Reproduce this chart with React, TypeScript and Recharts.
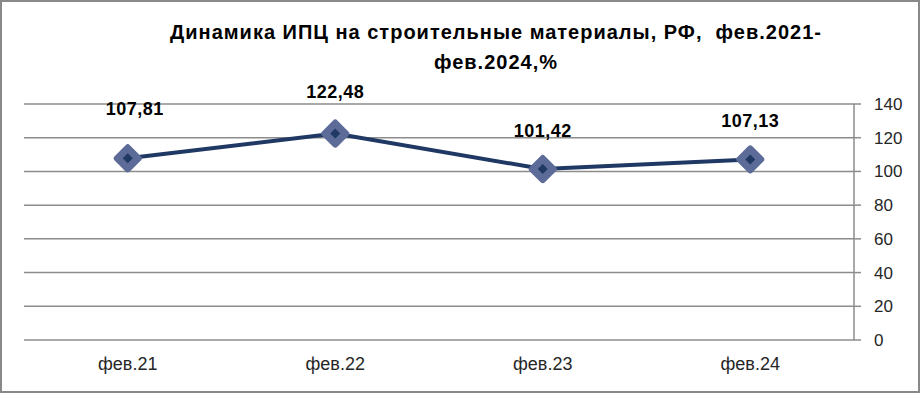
import { LineChart, Line, XAxis, YAxis, CartesianGrid, LabelList } from 'recharts'

const categories = ['фев.21', 'фев.22', 'фев.23', 'фев.24']
const values = [107.81, 122.48, 101.42, 107.13]
const yTicks = [0, 20, 40, 60, 80, 100, 120, 140]
const titleLines = ['Динамика ИПЦ на строительные материалы, РФ,  фев.2021-', 'фев.2024,%']

// label placement as in the original (labels were nudged by hand)
const labelGap = [43, 36, 32, 32]
const labelShift = [7, 0, 0, 0]

const boundTicks = categories.map((_, i) => i).concat(categories.length)
const centerTicks = categories.map((_, i) => i + 0.5)

const chartData = categories.map((name, i) => ({ pos: i + 0.5, name, value: values[i] }))

const gridColor = '#8c8c8c'
const lineColor = '#1f3864'
const glowColor = '#5c6b98'
const font = '"Liberation Sans", Arial, sans-serif'

function Marker(props: any) {
  const { cx, cy, index } = props
  if (cx == null || cy == null) return null
  const g = 11
  const s = 5
  return (
    <g key={`m-${index}`}>
      <path
        d={`M${cx},${cy - g} L${cx + g},${cy} L${cx},${cy + g} L${cx - g},${cy} Z`}
        fill={glowColor}
        stroke={glowColor}
        strokeWidth={6}
        strokeLinejoin="round"
      />
      <path
        d={`M${cx},${cy - s} L${cx + s},${cy} L${cx},${cy + s} L${cx - s},${cy} Z`}
        fill={lineColor}
      />
    </g>
  )
}

function ValueLabel(props: any) {
  const { x, y, value, index } = props
  if (x == null || y == null) return null
  return (
    <text
      x={x + labelShift[index]}
      y={y - labelGap[index]}
      textAnchor="middle"
      fill="#000"
      fontSize={18}
      fontWeight={700}
      fontFamily={font}
      letterSpacing={0.5}
    >
      {Number(value).toFixed(2).replace('.', ',')}
    </text>
  )
}

export default function App() {
  return (
    <div style={{ position: 'absolute', left: 0, top: 0, width: 920, height: 393, background: '#fff', fontFamily: font }}>
      <LineChart
        width={920}
        height={393}
        data={chartData}
        margin={{ top: 104, right: 0, bottom: 0, left: 24 }}
      >
        <CartesianGrid xAxisId="bounds" vertical={false} stroke={gridColor} strokeWidth={1.5} />
        <XAxis
          xAxisId="bounds"
          type="number"
          dataKey="pos"
          domain={[0, categories.length]}
          ticks={boundTicks}
          tick={false}
          height={0}
          tickSize={6}
          axisLine={{ stroke: gridColor, strokeWidth: 1.5 }}
          tickLine={{ stroke: gridColor, strokeWidth: 1.5 }}
        />
        <XAxis
          xAxisId="labels"
          type="number"
          dataKey="pos"
          domain={[0, categories.length]}
          ticks={centerTicks}
          tickFormatter={(v: number) => categories[Math.floor(v)]}
          height={53}
          axisLine={false}
          tickLine={false}
          tickSize={6}
          tickMargin={11}
          tick={{ fill: '#262626', fontSize: 18, fontFamily: font }}
        />
        <YAxis
          orientation="right"
          domain={[0, 140]}
          ticks={yTicks}
          width={66}
          tickSize={7}
          tickMargin={13}
          interval={0}
          axisLine={{ stroke: gridColor, strokeWidth: 1.5 }}
          tickLine={{ stroke: gridColor, strokeWidth: 1.5 }}
          tick={{ fill: '#262626', fontSize: 17, fontFamily: font, textAnchor: 'start' }}
        />
        <Line
          xAxisId="bounds"
          type="linear"
          dataKey="value"
          stroke={lineColor}
          strokeWidth={4}
          dot={(p: any) => <Marker {...p} />}
          activeDot={false}
          isAnimationActive={false}
        >
          <LabelList dataKey="value" content={(p: any) => <ValueLabel {...p} />} />
        </Line>
      </LineChart>
      <div
        style={{
          position: 'absolute',
          left: 0,
          top: 17,
          width: 992,
          textAlign: 'center',
          fontSize: 20,
          fontWeight: 700,
          lineHeight: '30px',
          letterSpacing: 1,
          color: '#000',
          fontFamily: font,
          whiteSpace: 'pre',
        }}
      >
        {titleLines.map((t) => (
          <div key={t}>{t}</div>
        ))}
      </div>
      <div
        style={{
          position: 'absolute',
          left: 0,
          top: 0,
          width: 920,
          height: 393,
          boxSizing: 'border-box',
          border: '2px solid #898989',
          pointerEvents: 'none',
        }}
      />
    </div>
  )
}
